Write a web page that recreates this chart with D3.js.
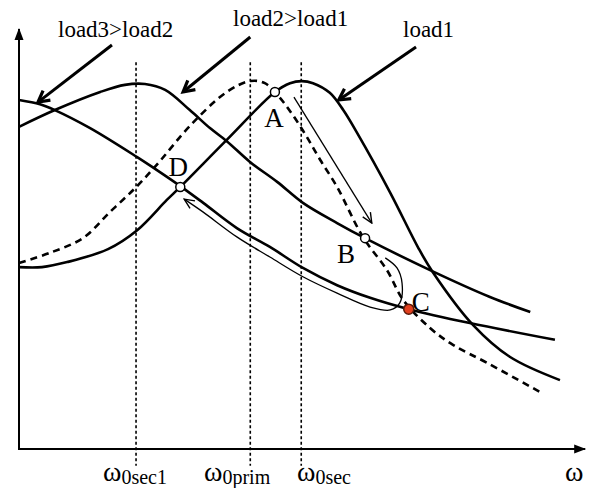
<!DOCTYPE html>
<html>
<head>
<meta charset="utf-8">
<script src="https://cdn.jsdelivr.net/npm/d3@7"></script>
<style>
  body { margin: 0; background: #fff; }
  text { font-family: "Liberation Serif", "Times New Roman", serif; fill: #000; }
</style>
</head>
<body>
<div id="container"></div>
<script>
// SVG size
var svg_width = 589
var svg_height = 488

//
// Curve data (omega, response)
var load1 = [[0, 4.33], [0.41, 4.33], [0.86, 4.45], [1.59, 4.76], [2.11, 5.21], [2.64, 5.93], [2.88, 6.24],
    [3.71, 7.36], [4.57, 8.50], [4.84, 8.71], [5.05, 8.76], [5.25, 8.71], [5.55, 8.48], [5.79, 8.07],
    [6.04, 7.52], [6.63, 6.10], [7.13, 4.79], [7.39, 4.21], [8.11, 2.95], [8.77, 2.19], [9.66, 1.64]];
var load2 = [[0, 7.67], [0.64, 8.07], [1.45, 8.50], [1.89, 8.67], [2.25, 8.69], [2.61, 8.55], [3.05, 8.07],
    [3.41, 7.64], [3.71, 7.33], [4.13, 6.83], [4.61, 6.36], [5.07, 5.86], [5.68, 5.38], [6.18, 5.02],
    [7.34, 4.26], [8.41, 3.62], [9.13, 3.26]];
var load3 = [[0, 8.31], [0.375, 8.21], [0.64, 8.07], [1.27, 7.64], [2.11, 6.95], [2.43, 6.67], [2.88, 6.26],
    [3.29, 5.86], [3.89, 5.26], [4.48, 4.81], [5.07, 4.31], [5.68, 3.90], [6.27, 3.60], [6.96, 3.33],
    [8.05, 3.00], [9.57, 2.60]];
var primary = [[0, 4.43], [0.55, 4.67], [1.14, 5.02], [1.63, 5.65], [2.11, 6.26], [2.52, 6.86],
    [3.05, 7.69], [3.71, 8.50], [4.13, 8.76], [4.39, 8.71], [4.66, 8.36], [4.89, 7.95], [5.14, 7.43],
    [5.38, 6.88], [5.68, 6.24], [6.14, 5.05], [6.57, 4.26], [6.86, 3.55], [7.34, 2.88], [7.75, 2.48],
    [8.36, 2.05], [9.30, 1.36]];

// jump path from C back to D
var returnPath = [[6.54, 4.55], [6.75, 4.31], [6.84, 3.95], [6.80, 3.48], [6.63, 3.31], [6.27, 3.38],
    [5.68, 3.71], [5.07, 4.10], [4.48, 4.57], [3.89, 5.05], [3.29, 5.64], [2.95, 5.95]];
// path from A down to B
var dropPath = [[4.91, 8.38], [6.30, 5.38]];

// Operating points
var points = [
    {name: "A", x: 4.57, y: 8.50},
    {name: "B", x: 6.18, y: 5.02},
    {name: "C", x: 6.96, y: 3.33},
    {name: "D", x: 2.88, y: 6.24}
];

// Resonance frequencies (dotted lines)
var freqNames = ["0sec1", "0prim", "0sec"];
var freqValues = [2.09, 4.13, 5.04];

// Label arrows pointing at curves
var labelNames = ["load3>load2", "load2>load1", "load1"];
var labelArrows = [
    [[1.66, 9.62], [0.34, 8.26]],
    [[4.13, 9.81], [2.93, 8.50]],
    [[7.09, 9.57], [5.71, 8.31]]
];

//
// Scales
var x = d3.scaleLinear().domain([0, 10]).range([19, 579]);
var y = d3.scaleLinear().domain([0, 10]).range([449, 29]);

var svg = d3.select("#container")
    .append("svg")
    .attr("width", svg_width)
    .attr("height", svg_height);

var defs = svg.append("defs");
defs.append("marker")
    .attr("id", "axisHead")
    .attr("viewBox", "0 -5 12 10")
    .attr("refX", 11).attr("refY", 0)
    .attr("markerWidth", 12).attr("markerHeight", 10)
    .attr("markerUnits", "userSpaceOnUse")
    .attr("orient", "auto")
    .append("path").attr("d", "M0,-4.5L12,0L0,4.5Z").attr("fill", "#000");
defs.append("marker")
    .attr("id", "thickHead")
    .attr("viewBox", "-2 -8 16 16")
    .attr("refX", 11).attr("refY", 0)
    .attr("markerWidth", 16).attr("markerHeight", 16)
    .attr("markerUnits", "userSpaceOnUse")
    .attr("orient", "auto")
    .append("path").attr("d", "M0,-6L11,0L0,6")
    .attr("fill", "none").attr("stroke", "#000").attr("stroke-width", 3.2);
defs.append("marker")
    .attr("id", "thinHead")
    .attr("viewBox", "-1 -6 12 12")
    .attr("refX", 10).attr("refY", 0)
    .attr("markerWidth", 12).attr("markerHeight", 12)
    .attr("markerUnits", "userSpaceOnUse")
    .attr("orient", "auto")
    .append("path").attr("d", "M0,-4.5L10,0L0,4.5")
    .attr("fill", "none").attr("stroke", "#000").attr("stroke-width", 1.4);

var line = d3.line()
    .x(d => x(d[0]))
    .y(d => y(d[1]))
    .curve(d3.curveCatmullRom.alpha(0.5));

// Dotted frequency lines
svg.selectAll(".freq")
    .data(freqValues)
    .enter()
    .append("line")
    .attr("x1", d => x(d)).attr("x2", d => x(d))
    .attr("y1", y(9.21)).attr("y2", y(-0.4))
    .attr("stroke", "#000")
    .attr("stroke-width", 1.6)
    .attr("stroke-dasharray", "3,2.5");

// Axes
svg.append("line")
    .attr("x1", x(0)).attr("y1", y(0))
    .attr("x2", x(0)).attr("y2", y(10))
    .attr("stroke", "#000").attr("stroke-width", 2)
    .attr("marker-end", "url(#axisHead)");
svg.append("line")
    .attr("x1", x(0) - 1).attr("y1", y(0))
    .attr("x2", x(10.11)).attr("y2", y(0))
    .attr("stroke", "#000").attr("stroke-width", 2)
    .attr("marker-end", "url(#axisHead)");

// Curves
[load1, load2, load3].forEach(function(c){
    svg.append("path")
        .attr("d", line(c))
        .attr("fill", "none")
        .attr("stroke", "#000")
        .attr("stroke-width", 2.6);
});
svg.append("path")
    .attr("d", line(primary))
    .attr("fill", "none")
    .attr("stroke", "#000")
    .attr("stroke-width", 2.6)
    .attr("stroke-dasharray", "7,5");

// Thin transition arrows
svg.append("path")
    .attr("d", line(returnPath))
    .attr("fill", "none")
    .attr("stroke", "#000")
    .attr("stroke-width", 1.3)
    .attr("marker-end", "url(#thinHead)");
svg.append("path")
    .attr("d", d3.line().x(d => x(d[0])).y(d => y(d[1]))(dropPath))
    .attr("fill", "none")
    .attr("stroke", "#000")
    .attr("stroke-width", 1.3)
    .attr("marker-end", "url(#thinHead)");

// Label arrows
labelArrows.forEach(function(a){
    svg.append("path")
        .attr("d", d3.line().x(d => x(d[0])).y(d => y(d[1]))(a))
        .attr("fill", "none")
        .attr("stroke", "#000")
        .attr("stroke-width", 3)
        .attr("marker-end", "url(#thickHead)");
});

// Operating points
svg.selectAll(".pt")
    .data(points)
    .enter()
    .append("circle")
    .attr("cx", d => x(d.x))
    .attr("cy", d => y(d.y))
    .attr("r", d => d.name == "C" ? 5 : 4.5)
    .attr("fill", d => d.name == "C" ? "#e2401f" : "#fff")
    .attr("stroke", d => d.name == "C" ? "#5a1a0a" : "#000")
    .attr("stroke-width", 1.5);

// Point letters
var letterOffset = {A: [-1, 35], B: [-19, 25], C: [12, 2], D: [-2, -11]};
svg.selectAll(".ptlabel")
    .data(points)
    .enter()
    .append("text")
    .attr("x", d => x(d.x) + letterOffset[d.name][0])
    .attr("y", d => y(d.y) + letterOffset[d.name][1])
    .attr("text-anchor", "middle")
    .style("font-size", "27px")
    .text(d => d.name);

// Curve labels
var labelPos = [[58, 37], [233, 26], [403, 37]];
svg.selectAll(".curvelabel")
    .data(labelNames)
    .enter()
    .append("text")
    .attr("x", (d, i) => labelPos[i][0])
    .attr("y", (d, i) => labelPos[i][1])
    .style("font-size", "23px")
    .text(d => d);

// Frequency labels under the axis
var freqStart = [103, 204, 297];
var fl = svg.selectAll(".freqlabel")
    .data(freqNames)
    .enter()
    .append("text")
    .attr("x", (d, i) => freqStart[i])
    .attr("y", 481);
fl.append("tspan").style("font-size", "28px").text("ω");
fl.append("tspan").style("font-size", "20px").attr("dy", 3).text(d => d);

svg.append("text")
    .attr("x", 565)
    .attr("y", 481)
    .style("font-size", "28px")
    .text("ω");
</script>
</body>
</html>
